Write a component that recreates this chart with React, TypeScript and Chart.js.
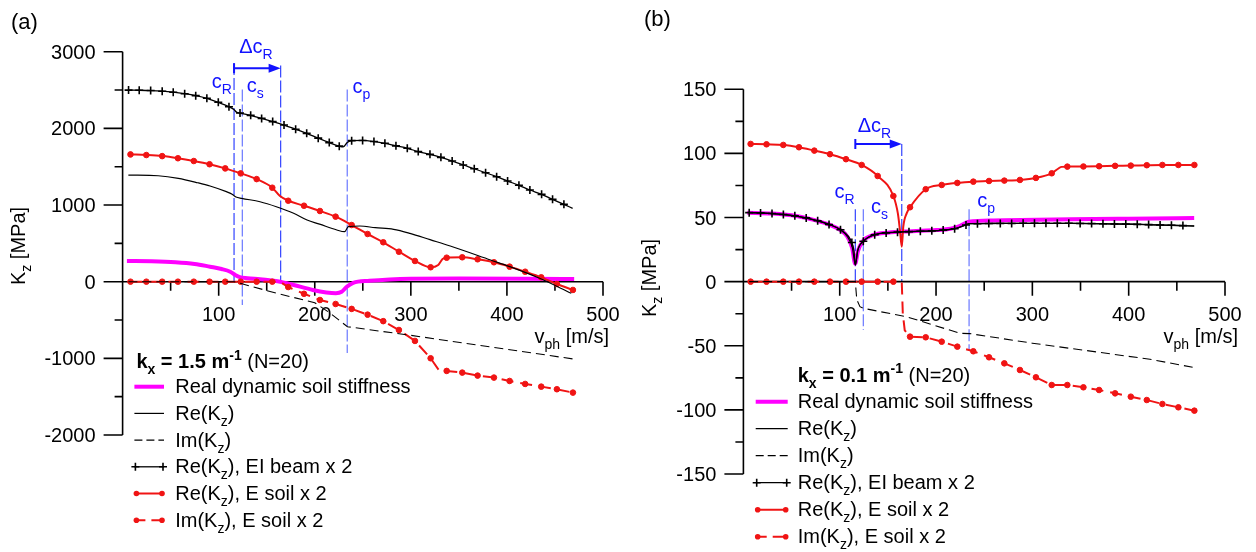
import { useEffect, useRef } from "react";
import { Chart, registerables } from "chart.js";

Chart.register(...registerables);

type P = [number, number];

// ================= Panel (a): kx = 1.5 m^-1 =================
const aXTicks = [100, 200, 300, 400, 500];
const aXMinor = [50, 150, 250, 350, 450];
const aYTicks = [3000, 2000, 1000, 0, -1000, -2000];
const aYMinor = [2500, 1500, 500, -500, -1500];

const aSoilStiffness: P[] = [
  [4.5, 270], [30, 267], [55, 255], [75, 232], [91, 195], [103, 165], [112, 130],
  [117, 90], [122, 60], [130, 46], [143, 32], [155, 15], [164, 0], [178, -43],
  [198, -108], [212, -140], [222, -150], [228, -132], [233, -70], [240, -15],
  [257, 12], [278, 30], [300, 38], [350, 40], [420, 38], [470, 35],
];
const aReKz: P[] = [
  [6, 1391], [37, 1382], [58, 1348], [78, 1291], [91, 1248], [108, 1174], [114, 1140],
  [118, 1105], [124, 1087], [143, 1043], [160, 978], [178, 892], [192, 804], [205, 750],
  [223, 674], [231, 652], [235, 717], [247, 726], [263, 704], [282, 683], [299, 631],
  [320, 548], [341, 465], [383, 283], [403, 196], [434, 44], [467, -152],
];
const aImKz: P[] = [
  [6, 0], [116, 0], [119, -10], [122, -20], [160, -150], [200, -275], [216, -410],
  [234, -587], [300, -700], [469, -1008],
];
const aBeamRe: P[] = [
  [6.2, 2499], [17.3, 2497], [29.2, 2493], [41.2, 2485], [52.7, 2472], [64.6, 2452],
  [76.1, 2427], [87.7, 2392], [99.6, 2340], [110.7, 2282], [122.2, 2200], [133.3, 2170],
  [144.7, 2130], [156.2, 2088], [168, 2043], [180.1, 1988], [191.6, 1935], [203.6, 1872],
  [215.1, 1814], [225.5, 1768], [238.4, 1840], [249.8, 1842], [261.6, 1828], [273, 1805],
  [284.5, 1772], [296.3, 1740], [307.7, 1697], [319.9, 1661], [331.3, 1622], [343, 1574],
  [354.5, 1522], [366, 1473], [377.8, 1421], [389.3, 1369], [400.7, 1313], [412.5, 1257],
  [423.9, 1196], [436.1, 1139], [447.5, 1074], [459.3, 1009],
];
const aBeamReExtra: P[] = [[115.9, 2245], [118.5, 2212], [229.5, 1758], [233.8, 1815], [468.4, 957]];
const aSoilRe: P[] = [
  [8.2, 1660], [24.7, 1652], [41.2, 1638], [57.6, 1610], [74.1, 1574], [90.5, 1532],
  [106.8, 1478], [122.9, 1413], [139.5, 1338], [155.8, 1226], [172.4, 1056], [188.8, 991],
  [205.4, 922], [221.7, 848], [238.4, 739], [255, 622], [271.3, 514], [287.6, 391],
  [304.3, 270], [320.6, 188], [337.3, 313], [353.5, 318], [369.5, 292], [386.5, 253],
  [402.8, 196], [419, 130], [435.7, 57], [452, -30], [468.7, -108],
];
const aSoilReExtra: P[] = [[163.8, 1117], [328.5, 218], [333, 296]];
const aSoilIm: P[] = [
  [8.2, 0], [24.7, 0], [41.2, 0], [57.6, 0], [74.1, 0], [90.5, 0], [106.8, 0], [122.9, 0],
  [139.5, 0], [155.8, 0], [172.4, -70], [188.8, -158], [205.4, -239], [221.7, -291],
  [238.4, -355], [255, -430], [271.3, -515], [287.6, -630], [304.3, -773], [320.6, -999],
  [337.3, -1164], [353.5, -1186], [369.5, -1225], [386.5, -1251], [402.8, -1295],
  [419, -1334], [435.7, -1369], [452, -1403], [468.7, -1447],
];
const aSoilImExtra: P[] = [[163.8, 0], [329, -1150]];
const aSpeeds = { cR: 116, cS: 124.6, cRshift: 164.5, cP: 233.8 };

// ================= Panel (b): kx = 0.1 m^-1 =================
const bXTicks = [100, 200, 300, 400, 500];
const bXMinor = [50, 150, 250, 350, 450];
const bYTicks = [150, 100, 50, 0, -50, -100, -150];
const bYMinor = [125, 75, 25, -25, -75, -125];

const bSoilStiffness: P[] = [
  [4, 53.8], [30, 53.1], [55, 51.2], [75, 47.8], [90, 44.2], [100, 40.6], [108, 35],
  [113, 26], [116, 14], [119, 24], [124, 31.5], [135, 36.4], [150, 38.2], [175, 39.3],
  [200, 40.2], [215, 41.2], [225, 43.5], [234, 46.8], [260, 47.7], [340, 48.6],
  [400, 49.1], [468, 49.6],
];
const bReKz: P[] = [
  [6, 53.8], [30, 53.1], [55, 51.1], [75, 47.8], [90, 44.3], [100, 40.8], [108, 35],
  [113, 27], [116.2, 13], [119, 25], [124.5, 31.5], [136, 36.6], [160, 38.6], [200, 39.8],
  [219, 41.3], [231, 44.2], [234.3, 45.3], [260, 45.4], [340, 45.5], [400, 44.8], [468, 43.4],
];
const bImKz: P[] = [
  [6, 0], [116.2, 0], [117.7, -14], [121, -19.5], [124.5, -20.8], [170, -27.5],
  [225, -40.3], [235, -40.5], [300, -48], [422, -60.5], [466.4, -66.8],
];
const bBeamRe: P[] = [
  [6, 53.8], [17.8, 53.6], [29.7, 53.1], [41.5, 52.4], [53.4, 51.3], [65.2, 49.7],
  [77.1, 47.5], [88.9, 44.6], [100.8, 40.5], [112.6, 30.5], [124.5, 31.5], [136.3, 36.6],
  [148.2, 38], [160, 38.6], [171.9, 39], [183.7, 39.3], [195.6, 39.6], [207.4, 40.2],
  [219.3, 41.3], [231.1, 44.2], [243, 45.2], [254.8, 45.3], [266.7, 45.4], [278.5, 45.4],
  [290.4, 45.5], [302.2, 45.5], [314.1, 45.5], [325.9, 45.5], [337.8, 45.5], [349.6, 45.4],
  [361.5, 45.3], [373.3, 45.2], [385.2, 45], [397, 44.9], [408.9, 44.7], [420.7, 44.5],
  [432.6, 44.2], [444.4, 44], [456.3, 43.7],
];
const bBeamReExtra: P[] = [[114.8, 24], [116.2, 13], [118.5, 24], [234.3, 45.3], [468, 43.4]];
const bSoilRe: P[] = [
  [7.5, 107.4], [24, 107.1], [41.4, 106.6], [57.7, 104.8], [73.6, 102.2], [89.9, 99.4],
  [106.5, 95.5], [122.8, 91], [139.4, 82.4], [155.7, 66.8], [173, 58], [189.3, 72.1],
  [205.9, 75.4], [222.1, 77], [238.7, 78], [255, 78.5], [270.9, 78.8], [287.1, 79.3],
  [303.7, 80.9], [320.1, 84.5], [336.3, 89.7], [353, 89.8], [369.3, 90], [385.9, 90.3],
  [402.2, 90.5], [418.8, 90.8], [435, 91], [451.6, 91], [468.2, 91],
];
const bSoilReExtra: P[] = [[160.4, 53], [162.5, 40.3], [164.4, 27.3], [166, 42.9], [169.6, 53.4], [330.5, 89.5]];
const bSoilIm: P[] = [
  [7.5, 0], [24, 0], [41.4, 0], [57.7, 0], [73.6, 0], [89.9, 0], [106.5, 0], [122.8, 0],
  [139.4, 0], [155.7, 0], [173, -42.9], [189.3, -43.4], [205.9, -46.8], [222.1, -50.7],
  [238.7, -54.3], [255, -59], [270.9, -63.7], [287.1, -68.9], [303.7, -74.6], [320.1, -80.6],
  [336.3, -80.6], [353, -82.4], [369.3, -84.5], [385.9, -87.1], [402.2, -89.7],
  [418.8, -92.3], [435, -95.4], [451.6, -98], [468.2, -100.6],
];
const bSoilImExtra: P[] = [[164.4, 0], [165.5, -25], [167.5, -38]];
const bSpeeds = { cR: 116.2, cS: 124.5, cRshift: 164.4, cP: 234.3 };

// ================= styling =================
const FONT = '"Liberation Sans", Arial, Helvetica, sans-serif';
const BLUE = "#1212ff";
const BLUE_DARK_LINE = "#3344ff";
const BLUE_LIGHT_LINE = "#6a78ff";
const RED = "#f01414";
const MAGENTA = "#ff00ff";

type Seg = { t: string; s?: "sub" | "sup"; b?: boolean };

function fontFor(seg: Seg, size: number) {
  const sz = seg.s ? size * 0.7 : size;
  return `${seg.b ? "bold " : ""}${sz}px ${FONT}`;
}

function drawRich(
  ctx: CanvasRenderingContext2D,
  segs: Seg[],
  x: number,
  y: number,
  align: "left" | "center" | "right",
  size: number,
  color: string
) {
  let w = 0;
  for (const s of segs) {
    ctx.font = fontFor(s, size);
    w += ctx.measureText(s.t).width;
  }
  let cx = align === "left" ? x : align === "center" ? x - w / 2 : x - w;
  ctx.fillStyle = color;
  ctx.textAlign = "left";
  ctx.textBaseline = "alphabetic";
  for (const s of segs) {
    ctx.font = fontFor(s, size);
    const dy = s.s === "sub" ? size * 0.3 : s.s === "sup" ? -size * 0.42 : 0;
    ctx.fillText(s.t, cx, y + dy);
    cx += ctx.measureText(s.t).width;
  }
}

const kz = (pre: string, post: string): Seg[] => [{ t: pre + "K" }, { t: "z", s: "sub" }, { t: post }];

const LEGEND_LABELS: Seg[][] = [
  [{ t: "Real dynamic soil stiffness" }],
  kz("Re(", ")"),
  kz("Im(", ")"),
  kz("Re(", "), EI beam x 2"),
  kz("Re(", "), E soil x 2"),
  kz("Im(", "), E soil x 2"),
];
const LEGEND_KINDS = ["mag", "re", "im", "beam", "soilRe", "soilIm"];

interface Speeds { cR: number; cS: number; cRshift: number; cP: number }

interface PanelCfg {
  yMin: number; yMax: number; xMax: number;
  xTicks: number[]; xMinor: number[]; yTicks: number[]; yMinor: number[];
  padding: { left: number; right: number; top: number; bottom: number };
  speeds: Speeds;
  // vertical extents of the marker lines (data units)
  lineTop: { cR: number; cS: number; cRshift: number; cP: number };
  lineBot: { cS: number; cP: number };
  arrowY: number;
  labels: { dcr: P; cr: P; cs: P; cp: P };
  header: Seg[]; headerX: number; headerY: number;
  legSample: [number, number]; legTextX: number; legY0: number; legStep: number;
  panelLabel: string; panelLabelPos: P;
  yTitlePos: P; xTitleRight: number; xTitleBase: number;
}

function drawSample(ctx: CanvasRenderingContext2D, kind: string, x1: number, x2: number, y: number) {
  ctx.save();
  ctx.setLineDash([]);
  const line = (color: string, w: number, dash: number[] = []) => {
    ctx.strokeStyle = color;
    ctx.lineWidth = w;
    ctx.setLineDash(dash);
    ctx.beginPath();
    ctx.moveTo(x1, y);
    ctx.lineTo(x2, y);
    ctx.stroke();
    ctx.setLineDash([]);
  };
  const dot = (x: number) => {
    ctx.fillStyle = RED;
    ctx.beginPath();
    ctx.arc(x, y, 2.8, 0, Math.PI * 2);
    ctx.fill();
  };
  const cross = (x: number) => {
    ctx.strokeStyle = "#000";
    ctx.lineWidth = 1.6;
    ctx.beginPath();
    ctx.moveTo(x - 4, y);
    ctx.lineTo(x + 4, y);
    ctx.moveTo(x, y - 4);
    ctx.lineTo(x, y + 4);
    ctx.stroke();
  };
  if (kind === "mag") line(MAGENTA, 4);
  if (kind === "re") line("#000", 1.2);
  if (kind === "im") line("#000", 1.2, [8, 4]);
  if (kind === "beam") { line("#000", 1.3); cross(x1 + 1); cross(x2 - 1); }
  if (kind === "soilRe") { line(RED, 2); dot(x1 + 2); dot(x2 - 2); }
  if (kind === "soilIm") { line(RED, 2, [11, 6]); dot(x1 + 2); dot(x2 - 2); }
  ctx.restore();
}

function makeDecor(p: PanelCfg) {
  return {
    id: "decor",
    beforeDatasetsDraw(chart: any) {
      const ctx: CanvasRenderingContext2D = chart.ctx;
      const X = (v: number) => chart.scales.x.getPixelForValue(v);
      const Y = (v: number) => chart.scales.y.getPixelForValue(v);
      const s = p.speeds;
      ctx.save();
      // wave-speed marker lines
      ctx.lineWidth = 1.2;
      ctx.setLineDash([12, 3]);
      const vl = (x: number, y1: number, y2: number, color: string) => {
        ctx.strokeStyle = color;
        ctx.beginPath();
        ctx.moveTo(X(x), Y(y1));
        ctx.lineTo(X(x), Y(y2));
        ctx.stroke();
      };
      vl(s.cR, p.lineTop.cR, 0, BLUE_DARK_LINE);
      vl(s.cS, p.lineTop.cS, p.lineBot.cS, BLUE_LIGHT_LINE);
      vl(s.cRshift, p.lineTop.cRshift, 0, BLUE_DARK_LINE);
      vl(s.cP, p.lineTop.cP, p.lineBot.cP, BLUE_LIGHT_LINE);
      ctx.setLineDash([]);

      // axes
      const x0 = X(0);
      const y0 = Y(0);
      ctx.strokeStyle = "#000";
      ctx.lineWidth = 1.6;
      ctx.beginPath();
      ctx.moveTo(x0, Y(p.yMax));
      ctx.lineTo(x0, Y(p.yMin));
      ctx.moveTo(x0, y0);
      ctx.lineTo(X(p.xMax), y0);
      for (const v of p.yTicks) { ctx.moveTo(x0 - 19, Y(v)); ctx.lineTo(x0, Y(v)); }
      for (const v of p.yMinor) { ctx.moveTo(x0 - 8, Y(v)); ctx.lineTo(x0, Y(v)); }
      for (const v of p.xTicks) { ctx.moveTo(X(v), y0); ctx.lineTo(X(v), y0 + 14); }
      for (const v of p.xMinor) { ctx.moveTo(X(v), y0); ctx.lineTo(X(v), y0 + 9); }
      ctx.stroke();

      ctx.fillStyle = "#000";
      ctx.font = `20px ${FONT}`;
      ctx.textBaseline = "alphabetic";
      ctx.textAlign = "right";
      for (const v of p.yTicks) ctx.fillText(String(v), x0 - 27, Y(v) + 7);
      ctx.textAlign = "center";
      for (const v of p.xTicks) ctx.fillText(String(v), X(v), y0 + 39);
      ctx.restore();
    },
    afterDatasetsDraw(chart: any) {
      const ctx: CanvasRenderingContext2D = chart.ctx;
      const X = (v: number) => chart.scales.x.getPixelForValue(v);
      const Y = (v: number) => chart.scales.y.getPixelForValue(v);
      const s = p.speeds;
      ctx.save();
      // delta cR arrow
      const ay = Y(p.arrowY);
      const ax1 = X(s.cR);
      const ax2 = X(s.cRshift);
      ctx.strokeStyle = BLUE;
      ctx.fillStyle = BLUE;
      ctx.lineWidth = 2;
      ctx.beginPath();
      ctx.moveTo(ax1, ay);
      ctx.lineTo(ax2 - 8, ay);
      ctx.moveTo(ax1, ay - 5);
      ctx.lineTo(ax1, ay + 5);
      ctx.stroke();
      ctx.beginPath();
      ctx.moveTo(ax2, ay);
      ctx.lineTo(ax2 - 12, ay - 4.5);
      ctx.lineTo(ax2 - 12, ay + 4.5);
      ctx.closePath();
      ctx.fill();

      const L = p.labels;
      drawRich(ctx, [{ t: "\u0394c" }, { t: "R", s: "sub" }], X(L.dcr[0]), Y(L.dcr[1]), "left", 20, BLUE);
      drawRich(ctx, [{ t: "c" }, { t: "R", s: "sub" }], X(L.cr[0]), Y(L.cr[1]), "left", 20, BLUE);
      drawRich(ctx, [{ t: "c" }, { t: "s", s: "sub" }], X(L.cs[0]), Y(L.cs[1]), "left", 20, BLUE);
      drawRich(ctx, [{ t: "c" }, { t: "p", s: "sub" }], X(L.cp[0]), Y(L.cp[1]), "left", 20, BLUE);

      // panel label
      ctx.fillStyle = "#000";
      ctx.font = `22px ${FONT}`;
      ctx.textAlign = "left";
      ctx.fillText(p.panelLabel, p.panelLabelPos[0], p.panelLabelPos[1]);

      // axis titles
      ctx.save();
      ctx.translate(p.yTitlePos[0], p.yTitlePos[1]);
      ctx.rotate(-Math.PI / 2);
      drawRich(ctx, [{ t: "K" }, { t: "z", s: "sub" }, { t: " [MPa]" }], 0, 7, "center", 20, "#000");
      ctx.restore();
      drawRich(ctx, [{ t: "v" }, { t: "ph", s: "sub" }, { t: " [m/s]" }], p.xTitleRight, p.xTitleBase, "right", 20, "#000");

      // legend
      drawRich(ctx, p.header, p.headerX, p.headerY, "left", 20, "#000");
      LEGEND_LABELS.forEach((segs, i) => {
        const y = p.legY0 + p.legStep * i;
        drawSample(ctx, LEGEND_KINDS[i], p.legSample[0], p.legSample[1], y);
        drawRich(ctx, segs, p.legTextX, y + 6.5, "left", 20, "#000");
      });
      ctx.restore();
    },
  };
}

const toPts = (arr: P[], mark: boolean) => arr.map(([x, y]) => ({ x, y, m: mark ? 1 : 0 }));
const merge = (marks: P[], extra: P[]) =>
  [...toPts(marks, true), ...toPts(extra, false)].sort((a, b) => a.x - b.x);

interface SeriesSet {
  stiff: P[]; re: P[]; im: P[];
  beam: P[]; beamX: P[];
  soilRe: P[]; soilReX: P[];
  soilIm: P[]; soilImX: P[];
}

function buildDatasets(d: SeriesSet) {
  const markR = (r: number) => (c: any) => (c.raw && c.raw.m ? r : 0);
  return [
    {
      label: "Re(Kz), EI beam x 2",
      data: merge(d.beam, d.beamX),
      borderColor: "#000",
      borderWidth: 1.3,
      pointStyle: "cross",
      pointRadius: markR(4),
      pointBorderColor: "#000",
      pointBorderWidth: 1.6,
      cubicInterpolationMode: "monotone",
    },
    {
      label: "Re(Kz)",
      data: toPts(d.re, false),
      borderColor: "#000",
      borderWidth: 1.2,
      pointRadius: 0,
      cubicInterpolationMode: "monotone",
    },
    {
      label: "Im(Kz)",
      data: toPts(d.im, false),
      borderColor: "#000",
      borderWidth: 1.1,
      borderDash: [9, 5],
      pointRadius: 0,
      tension: 0,
    },
    {
      label: "Re(Kz), E soil x 2",
      data: merge(d.soilRe, d.soilReX),
      borderColor: RED,
      borderWidth: 2,
      pointStyle: "circle",
      pointRadius: markR(2.8),
      pointBackgroundColor: RED,
      pointBorderColor: RED,
      pointBorderWidth: 1,
      cubicInterpolationMode: "monotone",
    },
    {
      label: "Im(Kz), E soil x 2",
      data: merge(d.soilIm, d.soilImX),
      borderColor: RED,
      borderWidth: 2,
      borderDash: [12, 7],
      pointStyle: "circle",
      pointRadius: markR(2.8),
      pointBackgroundColor: RED,
      pointBorderColor: RED,
      pointBorderWidth: 1,
      tension: 0,
    },
    {
      label: "Real dynamic soil stiffness",
      data: toPts(d.stiff, false),
      borderColor: MAGENTA,
      borderWidth: 4,
      pointRadius: 0,
      cubicInterpolationMode: "monotone",
    },
  ];
}

const panelA: PanelCfg = {
  yMin: -2000, yMax: 3000, xMax: 500,
  xTicks: aXTicks, xMinor: aXMinor, yTicks: aYTicks, yMinor: aYMinor,
  padding: { left: 122.6, right: 25, top: 51.7, bottom: 117 },
  speeds: aSpeeds,
  lineTop: { cR: 2851, cS: 2508, cRshift: 2820, cP: 2508 },
  lineBot: { cS: -304, cP: -930 },
  arrowY: 2783,
  labels: { dcr: [121.3, 2980], cr: [92.7, 2525], cs: [129.1, 2477], cp: [239.4, 2456] },
  header: [
    { t: "k", b: true }, { t: "x", s: "sub", b: true }, { t: " = 1.5 m", b: true },
    { t: "-1", s: "sup", b: true }, { t: " (N=20)" },
  ],
  headerX: 136.4, headerY: 368,
  legSample: [134.4, 164], legTextX: 175.2, legY0: 386.7, legStep: 26.7,
  panelLabel: "(a)", panelLabelPos: [11, 29],
  yTitlePos: [18, 246], xTitleRight: 609, xTitleBase: 343,
};

const panelB: PanelCfg = {
  yMin: -150, yMax: 150, xMax: 500,
  xTicks: bXTicks, xMinor: bXMinor, yTicks: bYTicks, yMinor: bYMinor,
  padding: { left: 115.4, right: 31, top: 89.3, bottom: 78 },
  speeds: bSpeeds,
  lineTop: { cR: 56.5, cS: 56.5, cRshift: 107.4, cP: 56.5 },
  lineBot: { cS: -37.7, cP: -53.3 },
  arrowY: 107.4,
  labels: { dcr: [118.7, 117], cr: [94.6, 65.3], cs: [132.4, 53.6], cp: [242.7, 58.3] },
  header: [
    { t: "k", b: true }, { t: "x", s: "sub", b: true }, { t: " = 0.1 m", b: true },
    { t: "-1", s: "sup", b: true }, { t: " (N=20)" },
  ],
  headerX: 169.7, headerY: 381.7,
  legSample: [127.7, 159.7], legTextX: 169.7, legY0: 401.7, legStep: 27,
  panelLabel: "(b)", panelLabelPos: [16, 26],
  yTitlePos: [21, 278], xTitleRight: 610, xTitleBase: 343,
};

const seriesA: SeriesSet = {
  stiff: aSoilStiffness, re: aReKz, im: aImKz,
  beam: aBeamRe, beamX: aBeamReExtra,
  soilRe: aSoilRe, soilReX: aSoilReExtra,
  soilIm: aSoilIm, soilImX: aSoilImExtra,
};
const seriesB: SeriesSet = {
  stiff: bSoilStiffness, re: bReKz, im: bImKz,
  beam: bBeamRe, beamX: bBeamReExtra,
  soilRe: bSoilRe, soilReX: bSoilReExtra,
  soilIm: bSoilIm, soilImX: bSoilImExtra,
};

function makeChart(canvas: HTMLCanvasElement, p: PanelCfg, d: SeriesSet) {
  return new Chart(canvas, {
    type: "line",
    data: { datasets: buildDatasets(d) as any },
    options: {
      responsive: false,
      animation: false,
      devicePixelRatio: 1,
      events: [],
      layout: { padding: p.padding },
      plugins: { legend: { display: false }, title: { display: false }, tooltip: { enabled: false } },
      scales: {
        x: { type: "linear", min: 0, max: p.xMax, display: false },
        y: { type: "linear", min: p.yMin, max: p.yMax, display: false },
      },
    },
    plugins: [makeDecor(p) as any],
  });
}

export default function App() {
  const leftRef = useRef<HTMLCanvasElement>(null);
  const rightRef = useRef<HTMLCanvasElement>(null);

  useEffect(() => {
    const charts: Chart[] = [];
    if (leftRef.current) charts.push(makeChart(leftRef.current, panelA, seriesA));
    if (rightRef.current) charts.push(makeChart(rightRef.current, panelB, seriesB));
    return () => charts.forEach((c) => c.destroy());
  }, []);

  return (
    <div style={{ position: "absolute", left: 0, top: 0, width: 1256, height: 552, background: "#fff" }}>
      <canvas ref={leftRef} width={628} height={552} style={{ position: "absolute", left: 0, top: 0 }} />
      <canvas ref={rightRef} width={628} height={552} style={{ position: "absolute", left: 628, top: 0 }} />
    </div>
  );
}
